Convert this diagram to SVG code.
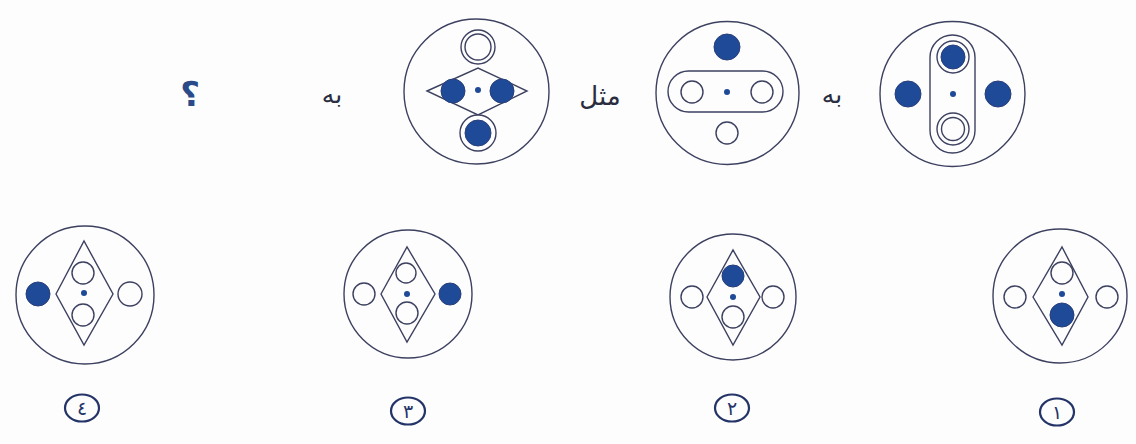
<svg xmlns="http://www.w3.org/2000/svg" width="1136" height="444" viewBox="0 0 1136 444">
<defs>
<style>
.o{fill:none;stroke:#3d4160;stroke-width:1.4}
.w{fill:#fff;stroke:#3d4160;stroke-width:1.4}
.f{fill:#1f4a98;stroke:#2a3f7a;stroke-width:1}
.d{fill:#1f4a98}
.t{font-family:"DejaVu Sans","Noto Sans",sans-serif;fill:#2a2d40;text-anchor:middle}
.lab{fill:none;stroke:#243468;stroke-width:2.2}
.n{font-family:"DejaVu Sans",sans-serif;fill:#243468;text-anchor:middle;font-size:19px}
</style>
</defs>
<rect width="1136" height="444" fill="#fdfdfd"/>

<g id="fig-a">
<circle class="o" cx="476.5" cy="91.5" r="72.5"/>
<circle class="o" cx="478" cy="47" r="17"/>
<circle class="o" cx="478" cy="47" r="13"/>
<polygon class="o" points="427,91 478,68 527,91 478,115"/>
<circle class="f" cx="453" cy="91" r="12"/>
<circle class="f" cx="502" cy="91" r="12"/>
<circle class="d" cx="478" cy="90" r="3"/>
<circle class="w" cx="478" cy="133" r="18"/>
<circle class="f" cx="478" cy="133" r="13"/>
</g>

<g id="fig-b">
<circle class="o" cx="727.5" cy="93" r="71.5"/>
<circle class="f" cx="727" cy="47" r="13"/>
<rect class="o" x="668" y="71" width="115" height="41" rx="20.5"/>
<circle class="o" cx="692" cy="92" r="11"/>
<circle class="o" cx="762" cy="92" r="11"/>
<circle class="d" cx="727" cy="92" r="3"/>
<circle class="o" cx="727" cy="133" r="11"/>
</g>

<g id="fig-c">
<circle class="o" cx="952.5" cy="94" r="72.5"/>
<rect class="o" x="930" y="35" width="45" height="118" rx="22.5"/>
<circle class="o" cx="953" cy="57" r="16"/>
<circle class="f" cx="953" cy="57" r="12"/>
<circle class="o" cx="953" cy="129" r="16"/>
<circle class="o" cx="953" cy="129" r="11.5"/>
<circle class="f" cx="908" cy="94" r="13"/>
<circle class="f" cx="998" cy="94" r="13"/>
<circle class="d" cx="953" cy="94" r="3"/>
</g>

<g id="texts-top">
<text class="t" x="832" y="103" font-size="25">به</text>
<text class="t" x="600" y="105" font-size="26">مثل</text>
<text class="t" x="332" y="103" font-size="25">به</text>
<text x="190" y="106" font-family="DejaVu Sans,sans-serif" font-size="34" font-weight="bold" fill="#2a4a8a" text-anchor="middle">؟</text>
</g>

<g id="opt4">
<circle class="o" cx="85" cy="295" r="69"/>
<polygon class="o" points="56,294 84,241 113,294 84,345"/>
<circle class="o" cx="83" cy="273" r="11"/>
<circle class="o" cx="83" cy="315" r="11"/>
<circle class="d" cx="84" cy="293" r="3"/>
<circle class="f" cx="38" cy="294" r="12"/>
<circle class="o" cx="130" cy="294" r="12"/>
<ellipse class="lab" cx="82" cy="408" rx="17" ry="13.5"/>
<text class="n" x="82" y="415">٤</text>
</g>

<g id="opt3">
<circle class="o" cx="408" cy="294" r="64"/>
<polygon class="o" points="381,294 407,247 435,294 407,342"/>
<circle class="o" cx="406" cy="273" r="10"/>
<circle class="o" cx="407" cy="313" r="11"/>
<circle class="d" cx="407" cy="294" r="3"/>
<circle class="o" cx="364" cy="294" r="11"/>
<circle class="f" cx="450" cy="294" r="11"/>
<ellipse class="lab" cx="408" cy="411" rx="17" ry="13.5"/>
<text class="n" x="408" y="418">٣</text>
</g>

<g id="opt2">
<circle class="o" cx="733" cy="297" r="63"/>
<polygon class="o" points="707,297 733,250 760,297 733,345"/>
<circle class="f" cx="733" cy="276" r="11"/>
<circle class="o" cx="733" cy="317" r="11"/>
<circle class="d" cx="733" cy="297" r="3"/>
<circle class="o" cx="692" cy="297" r="11"/>
<circle class="o" cx="773" cy="297" r="11"/>
<ellipse class="lab" cx="732" cy="408" rx="17" ry="13.5"/>
<text class="n" x="732" y="415">٢</text>
</g>

<g id="opt1">
<circle class="o" cx="1060" cy="296" r="67"/>
<polygon class="o" points="1033,297 1062,247 1088,297 1062,345"/>
<circle class="o" cx="1062" cy="273" r="11"/>
<circle class="f" cx="1062" cy="315" r="12"/>
<circle class="d" cx="1062" cy="294" r="3"/>
<circle class="o" cx="1015" cy="297" r="11"/>
<circle class="o" cx="1107" cy="297" r="11"/>
<ellipse class="lab" cx="1057" cy="412" rx="17" ry="13.5"/>
<text class="n" x="1057" y="419">١</text>
</g>
</svg>
